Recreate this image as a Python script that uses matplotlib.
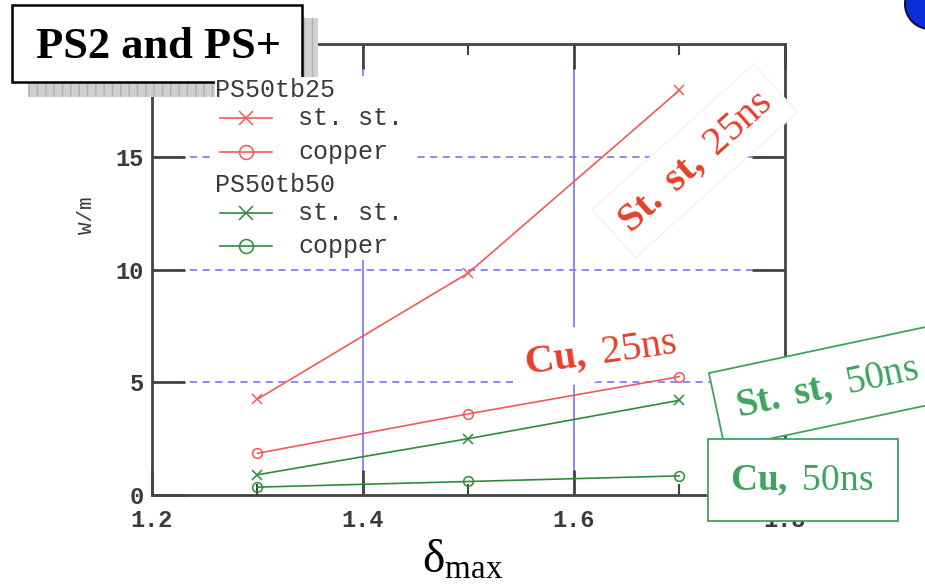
import numpy as np
import matplotlib.pyplot as plt
from matplotlib.patches import Rectangle, Ellipse
from matplotlib.lines import Line2D

plt.rcParams['mathtext.fontset'] = 'custom'
plt.rcParams['mathtext.rm'] = 'Liberation Serif'
plt.rcParams['mathtext.bf'] = 'Liberation Serif:bold'
plt.rcParams['mathtext.it'] = 'Liberation Serif:italic'

# delta_max values and power loss (W/m)
delta_max = [1.3, 1.5, 1.7]
ss_25ns = [4.25, 9.85, 17.95]
cu_25ns = [1.85, 3.6, 5.25]
ss_50ns = [0.9, 2.5, 4.2]
cu_50ns = [0.35, 0.6, 0.85]

xticks = [1.2, 1.4, 1.6, 1.8]
yticks = [0, 5, 10, 15]

RED = '#f05a5a'
GREEN = '#2e8b3a'
RED_TXT = '#e8402a'
GREEN_TXT = '#3fa460'
GRID = '#8080ff'
MONO = 'Liberation Mono'
SERIF = 'Liberation Serif'
TXT = '#3a3a3a'

fig = plt.figure(figsize=(9.25, 5.85), dpi=100)
ax = fig.add_axes([0.1643, 0.1538, 0.6843, 0.771])

ax.plot(delta_max, ss_25ns, color=RED, lw=1.2, marker='x', ms=7, mew=1.1, zorder=3)
ax.plot(delta_max, cu_25ns, color=RED, lw=1.2, marker='o', ms=7, mfc='none', mew=1.1, zorder=3)
ax.plot(delta_max, ss_50ns, color=GREEN, lw=1.2, marker='x', ms=7, mew=1.1, zorder=3)
ax.plot(delta_max, cu_50ns, color=GREEN, lw=1.2, marker='o', ms=7, mfc='none', mew=1.1, zorder=3)

ax.set_xlim(1.2, 1.8)
ax.set_ylim(0, 20)
ax.set_xticks(xticks)
ax.set_xticks([1.3, 1.5, 1.7], minor=True)
ax.set_yticks(yticks)
ax.set_xticklabels([f'{v:.1f}' for v in xticks], fontfamily=MONO, fontsize=17,
                   color=TXT, fontweight='bold')
ax.set_yticklabels([str(v) for v in yticks], fontfamily=MONO, fontsize=17,
                   color=TXT, fontweight='bold')
ax.tick_params(axis='both', which='major', direction='in', length=18, width=2,
               color='#444444', top=True, right=True)
ax.tick_params(axis='x', which='major', pad=10)
ax.tick_params(axis='y', which='major', length=24, pad=6)
ax.tick_params(axis='x', which='minor', direction='in', length=8, width=1.5,
               color='#444444', top=True)
for s in ax.spines.values():
    s.set_linewidth(2)
    s.set_color('#444444')

# grid: solid verticals, dashed horizontals
for xv in xticks[1:-1]:
    ax.axvline(xv, color=GRID, lw=1.3, zorder=1)
for yv in yticks[1:]:
    ax.axhline(yv, color=GRID, lw=1.3, ls=(0, (4, 3)), zorder=1)

ax.set_ylabel('W/m', fontfamily=MONO, fontsize=15, color=TXT)
ax.yaxis.set_label_coords(-0.088, 0.62)
ax.set_xlabel(r'$\mathrm{\delta}_{\mathrm{max}}$', fontsize=34)
ax.xaxis.set_label_coords(0.49, -0.095)

# legend block
leg_bg = Rectangle((0.096, 0.52), 0.323, 0.41, transform=ax.transAxes,
                   facecolor='white', edgecolor='none', zorder=2)
ax.add_patch(leg_bg)
rows = [
    ('PS50tb25', None, None, 0.898),
    ('st. st.', RED, 'x', 0.836),
    ('copper', RED, 'o', 0.760),
    ('PS50tb50', None, None, 0.687),
    ('st. st.', GREEN, 'x', 0.625),
    ('copper', GREEN, 'o', 0.552),
]
for label, col, mk, yy in rows:
    if col is None:
        # group headers are figure-level so they sit above the title shadow
        fig.text(0.10, yy, label, transform=ax.transAxes, fontfamily=MONO,
                 fontsize=18, color=TXT, va='center', ha='left', zorder=12,
                 bbox=dict(facecolor='white', edgecolor='none', pad=0.5))
    else:
        ax.add_line(Line2D([0.107, 0.19], [yy, yy], transform=ax.transAxes,
                           color=col, lw=1.2, zorder=4))
        ax.add_line(Line2D([0.1485], [yy], transform=ax.transAxes, color=col,
                           marker=mk, ms=10, mfc='none', mew=1.1, zorder=4))
        ax.text(0.231, yy, label, transform=ax.transAxes, fontfamily=MONO,
                fontsize=18, color=TXT, va='center', ha='left', zorder=4)

# curve annotations
fig.text(0.751, 0.725, r'$\mathbf{St.\ st,}\ \mathrm{25ns}$', color=RED_TXT,
         fontsize=29, rotation=42, ha='center', va='center', zorder=5,
         bbox=dict(facecolor='white', edgecolor='#f2f2f2', pad=9))
fig.text(0.649, 0.398, r'$\mathbf{Cu,}\ \mathrm{25ns}$', color=RED_TXT,
         fontsize=29, rotation=8, ha='center', va='center', zorder=5,
         bbox=dict(facecolor='white', edgecolor='none', pad=6))
fig.text(0.894, 0.338, r'$\mathbf{St.\ st,}\ \mathrm{50ns}$', color=GREEN_TXT,
         fontsize=28, rotation=12, ha='center', va='center', zorder=5,
         bbox=dict(facecolor='white', edgecolor=GREEN_TXT, lw=1.3, pad=14))
fig.add_artist(Rectangle((708 / 925, 1 - 521 / 585), 190 / 925, 82 / 585,
                         transform=fig.transFigure, facecolor='white',
                         edgecolor=GREEN_TXT, lw=1.3, zorder=6))
fig.text(0.867, 0.178, r'$\mathbf{Cu,}\ \mathrm{50ns}$', color=GREEN_TXT,
         fontsize=27, ha='center', va='center', zorder=7)

# title box with hatched shadow
shadow = Rectangle((0.03, 0.834), 0.314, 0.135, transform=fig.transFigure,
                   facecolor='#d0d0d0', edgecolor='#b0b0b0', hatch='||',
                   lw=0, zorder=8)
fig.add_artist(shadow)
tbox = Rectangle((0.013, 0.86), 0.313, 0.131, transform=fig.transFigure,
                 facecolor='white', edgecolor='black', lw=1.8, zorder=9)
fig.add_artist(tbox)
fig.text(0.171, 0.92, 'PS2 and PS+', fontfamily=SERIF, fontweight='bold',
         fontsize=32, ha='center', va='center', zorder=10)

# slide ornament at the top right
fig.add_artist(Ellipse((930 / 925, 1 - 4 / 585), 50 / 925, 50 / 585,
                       transform=fig.transFigure, facecolor='#0a2fd8',
                       edgecolor='#101040', lw=1.5, zorder=11))

fig.savefig('out.png', dpi=100, facecolor='white')
